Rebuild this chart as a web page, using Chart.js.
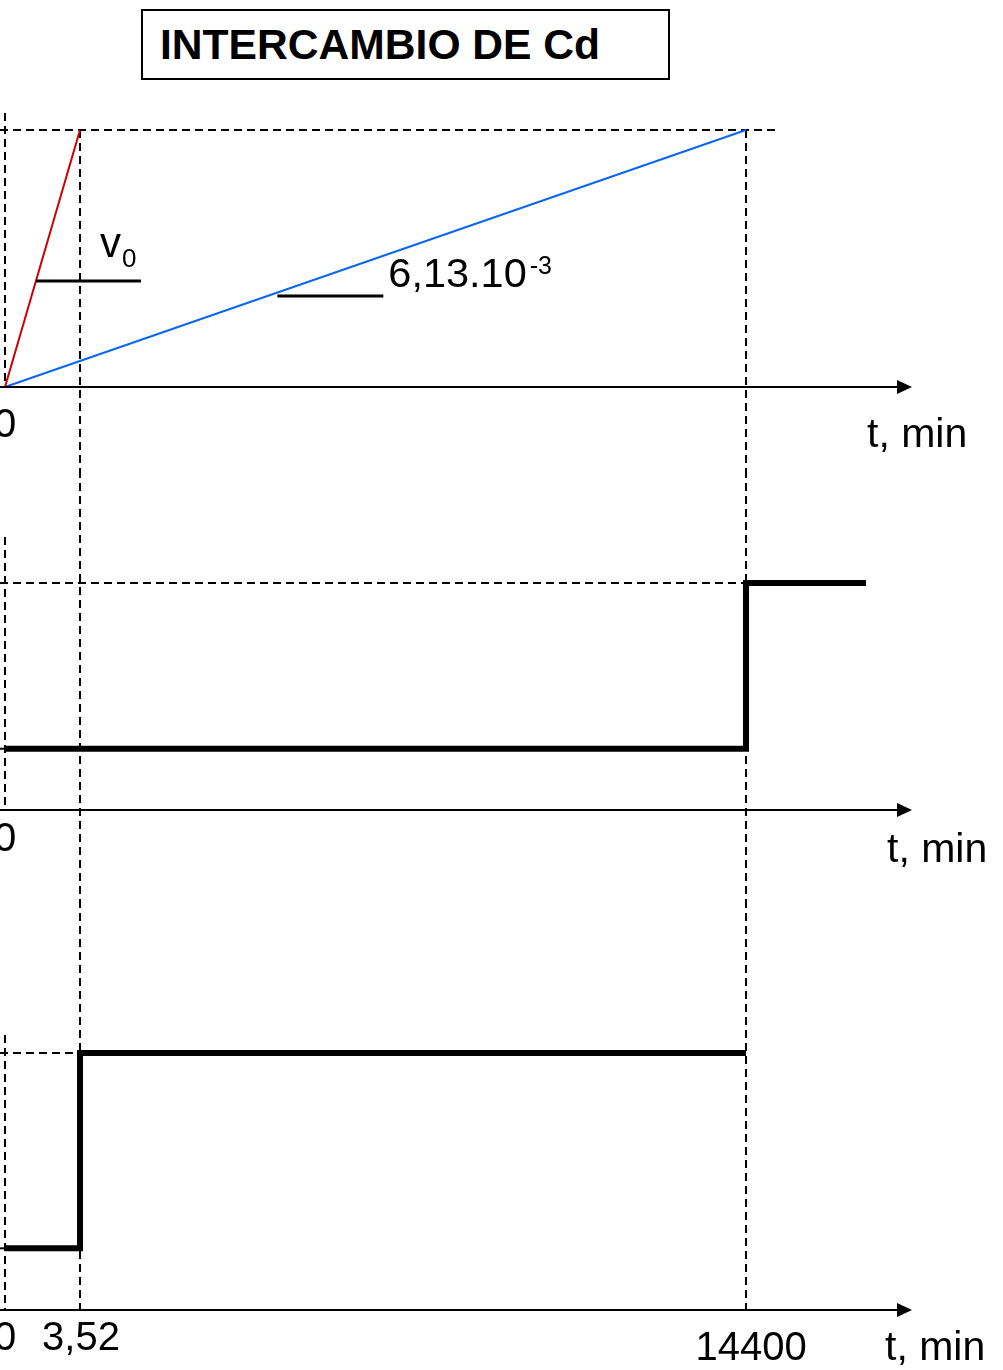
<!DOCTYPE html>
<html>
<head>
<meta charset="utf-8">
<script src="https://cdn.jsdelivr.net/npm/chart.js@4"></script>
<style>
html,body{margin:0;padding:0;background:#fff;}
body{width:1003px;height:1370px;position:relative;overflow:hidden;font-family:"Liberation Sans",Arial,sans-serif;}
#title{position:absolute;left:141px;top:9px;width:529px;height:71px;box-sizing:border-box;border:2px solid #000;
  padding-left:17px;font-weight:bold;font-size:42.6px;line-height:67px;color:#000;white-space:nowrap;}
canvas{position:absolute;left:0;}
</style>
</head>
<body>
<div id="title">INTERCAMBIO DE Cd</div>
<canvas id="c1" width="1003" height="370" style="top:100px"></canvas>
<canvas id="c2" width="1003" height="430" style="top:470px"></canvas>
<canvas id="c3" width="1003" height="470" style="top:900px"></canvas>
<script>
// ---------------- DATA ----------------
const keyTimes = [0, 3.52, 14400];            // t, min
const tickLabels = ['0', '3,52', '14400'];
const axisTitle = 't, min';
const tEnd = 18450;                            // end of the recorded step in panel 2
// panel 1 : two linear uptakes (normalised)
const redTimes = [0, 3.52];
const redValues = [0, 1];
const blueTimes = [0, 14400];
const blueValues = [0, 1];
const slopeRedLabel = ['v', '0'];              // v0
const slopeBlueLabel = ['6,13.10', '-3'];      // 6,13.10^-3
// panel 2 : step at 14400 min
const p2Times = [0, 14400, tEnd];
const p2Values = [0.27, 1, 1];
// panel 3 : step at 3,52 min
const p3Times = [0, 3.52, 14400];
const p3Values = [0.24, 1, 1];

// ---------------- SCHEMATIC (non-proportional) TIME AXIS ----------------
const X_BREAKS = [0, 3.52, 14400, 20000];
const X_FRACTIONS = [0, 0.0827, 0.817, 1];

class SchematicScale extends Chart.LinearScale {
  toDecimal(v) {
    const b = X_BREAKS, f = X_FRACTIONS;
    if (v <= b[0]) return f[0];
    for (let i = 1; i < b.length; i++) {
      if (v <= b[i] || i === b.length - 1) {
        return f[i - 1] + (v - b[i - 1]) / (b[i] - b[i - 1]) * (f[i] - f[i - 1]);
      }
    }
  }
  getPixelForValue(v) {
    if (v === null || v === undefined || isNaN(v)) return NaN;
    return this.getPixelForDecimal(this.toDecimal(v));
  }
  getValueForPixel(p) {
    const d = this.getDecimalForPixel(p), b = X_BREAKS, f = X_FRACTIONS;
    for (let i = 1; i < f.length; i++) {
      if (d <= f[i] || i === f.length - 1) {
        return b[i - 1] + (d - f[i - 1]) / (f[i] - f[i - 1]) * (b[i] - b[i - 1]);
      }
    }
  }
}
SchematicScale.id = 'schematic';
SchematicScale.defaults = {};
Chart.register(SchematicScale);

const FONT = '"Liberation Sans", Arial, sans-serif';
const pts = (xs, ys) => xs.map((x, i) => ({x: x, y: ys[i]}));

function dashLine(ctx, x1, y1, x2, y2) {
  ctx.beginPath(); ctx.moveTo(x1, y1); ctx.lineTo(x2, y2); ctx.stroke();
}

function makePlugin(cfg) {
  return {
    id: 'schem' + cfg.name,
    beforeDatasetsDraw(chart) {
      const ctx = chart.ctx, xs = chart.scales.x, ys = chart.scales.y, a = chart.chartArea;
      ctx.save();
      ctx.strokeStyle = '#000';
      ctx.lineWidth = 2;
      ctx.setLineDash([8, 5]);
      // dashed y axis
      const x0 = xs.getPixelForValue(keyTimes[0]);
      dashLine(ctx, x0, a.top, x0, a.bottom);
      // vertical guides
      cfg.vGuides.forEach(g => {
        const px = xs.getPixelForValue(g.t);
        const y1 = g.fromLevel !== undefined ? ys.getPixelForValue(g.fromLevel) : 0;
        const y2 = g.toAxis ? a.bottom : chart.height;
        dashLine(ctx, px, y1, px, y2);
      });
      // horizontal guides
      cfg.hGuides.forEach(g => {
        const py = ys.getPixelForValue(g.level);
        dashLine(ctx, 0, py, xs.getPixelForValue(g.t) + (g.extra || 0), py);
      });
      ctx.restore();
    },
    afterDatasetsDraw(chart) {
      const ctx = chart.ctx, xs = chart.scales.x, ys = chart.scales.y, a = chart.chartArea;
      ctx.save();
      // time axis with arrow
      const ay = a.bottom;
      ctx.strokeStyle = '#000'; ctx.fillStyle = '#000'; ctx.lineWidth = 2;
      ctx.beginPath(); ctx.moveTo(0, ay); ctx.lineTo(a.right - 12, ay); ctx.stroke();
      ctx.beginPath(); ctx.moveTo(a.right - 15, ay - 7); ctx.lineTo(a.right, ay); ctx.lineTo(a.right - 15, ay + 7); ctx.closePath(); ctx.fill();
      // tick labels
      ctx.textAlign = 'center'; ctx.textBaseline = 'alphabetic';
      ctx.font = '40px ' + FONT;
      cfg.ticks.forEach(tk => {
        ctx.fillText(tickLabels[tk.i], xs.getPixelForValue(keyTimes[tk.i]) + (tk.dx || 0), ay + tk.dy);
      });
      // axis title
      ctx.textAlign = 'left';
      ctx.font = '41px ' + FONT;
      ctx.fillText(axisTitle, cfg.titleX, ay + cfg.titleDy);
      // slope marks
      (cfg.slopes || []).forEach(s => {
        const py = ys.getPixelForValue(s.level);
        const t0 = xs.getPixelForValue(s.t0), t1 = xs.getPixelForValue(s.t1);
        const lx = t0 + (t1 - t0) * s.level + (s.gap || 0);
        ctx.lineWidth = 3; ctx.setLineDash([]);
        ctx.beginPath(); ctx.moveTo(lx, py); ctx.lineTo(lx + s.len, py); ctx.stroke();
        ctx.textAlign = 'left';
        ctx.font = s.mainSize + 'px ' + FONT;
        const tx = lx + s.textDx, ty = py + s.textDy;
        ctx.fillText(s.label[0], tx, ty);
        const w = ctx.measureText(s.label[0]).width;
        ctx.font = s.subSize + 'px ' + FONT;
        ctx.fillText(s.label[1], tx + w + s.subDx, ty + s.subDy);
      });
      ctx.restore();
    }
  };
}

function baseOptions(pad, ymax) {
  return {
    responsive: false,
    animation: false,
    events: [],
    layout: {padding: pad},
    plugins: {legend: {display: false}, tooltip: {enabled: false}, title: {display: false}},
    scales: {
      x: {type: 'schematic', min: 0, max: 20000, display: false},
      y: {type: 'linear', min: 0, max: ymax, display: false}
    }
  };
}

const thinLine = (data, color) => ({
  data: data, borderColor: color, borderWidth: 2, pointRadius: 0, fill: false, tension: 0, clip: false
});
const stepLine = (data) => ({
  data: data, borderColor: '#000', borderWidth: 6, pointRadius: 0, fill: false, stepped: 'before',
  borderJoinStyle: 'miter', borderCapStyle: 'butt', clip: false
});

// ---------------- PANEL 1 ----------------
new Chart(document.getElementById('c1'), {
  type: 'line',
  data: {datasets: [
    thinLine(pts(redTimes, redValues), '#cc0000'),
    thinLine(pts(blueTimes, blueValues), '#0a66f0')
  ]},
  options: baseOptions({left: 5, right: 91, top: 13, bottom: 83}, 1.066),
  plugins: [makePlugin({
    name: 'A',
    vGuides: [{t: keyTimes[1], fromLevel: 1}, {t: keyTimes[2], fromLevel: 1}],
    hGuides: [{level: 1, t: keyTimes[2], extra: 32}],
    ticks: [{i: 0, dy: 50}],
    titleX: 867, titleDy: 60,
    slopes: [
      {level: 0.4125, t0: redTimes[0], t1: redTimes[1], len: 105, label: slopeRedLabel,
       mainSize: 42, subSize: 26, textDx: 64, textDy: -24, subDx: 1, subDy: 10},
      {level: 0.354, t0: blueTimes[0], t1: blueTimes[1], gap: 10, len: 106, label: slopeBlueLabel,
       mainSize: 41.5, subSize: 25, textDx: 111, textDy: -9, subDx: 3, subDy: -13}
    ]
  })]
});

// ---------------- PANEL 2 ----------------
new Chart(document.getElementById('c2'), {
  type: 'line',
  data: {datasets: [stepLine(pts(p2Times, p2Values))]},
  options: baseOptions({left: 5, right: 91, top: 67, bottom: 90}, 1.2026),
  plugins: [makePlugin({
    name: 'B',
    vGuides: [{t: keyTimes[1]}, {t: keyTimes[2]}],
    hGuides: [{level: p2Values[1], t: keyTimes[2]}, {level: p2Values[0], t: keyTimes[0], extra: 2}],
    ticks: [{i: 0, dy: 41}],
    titleX: 887, titleDy: 52
  })]
});

// ---------------- PANEL 3 ----------------
new Chart(document.getElementById('c3'), {
  type: 'line',
  data: {datasets: [stepLine(pts(p3Times, p3Values))]},
  options: baseOptions({left: 5, right: 91, top: 135, bottom: 60}, 1.070),
  plugins: [makePlugin({
    name: 'C',
    vGuides: [{t: keyTimes[1], toAxis: true}, {t: keyTimes[2], toAxis: true}],
    hGuides: [{level: p3Values[1], t: keyTimes[1]}, {level: p3Values[0], t: keyTimes[0], extra: 2}],
    ticks: [{i: 0, dy: 40}, {i: 1, dy: 40, dx: 1}, {i: 2, dy: 50, dx: 5}],
    titleX: 885, titleDy: 50
  })]
});
</script>
</body>
</html>
